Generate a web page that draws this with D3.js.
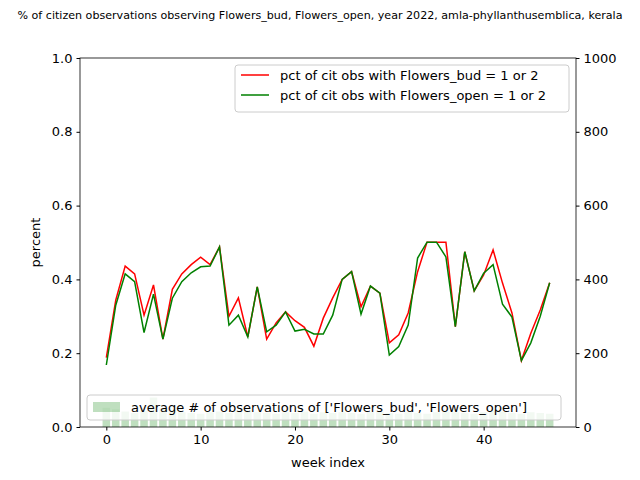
<!DOCTYPE html>
<html>
<head>
<meta charset="utf-8">
<script src="https://cdn.jsdelivr.net/npm/d3@7"></script>
<style>
  body { margin: 0; background: #fff; }
  text { font-family: 'DejaVu Sans', sans-serif; }
</style>
</head>
<body>
<div class="chart"></div>
<script>
const bud = [0.188, 0.344, 0.436, 0.415, 0.303, 0.385, 0.238, 0.373, 0.415, 0.44, 0.46, 0.44,
  0.488, 0.3, 0.35, 0.244, 0.38, 0.238, 0.282, 0.312, 0.288, 0.27, 0.219, 0.295,
  0.35, 0.4, 0.421, 0.326, 0.382, 0.363, 0.228, 0.25, 0.309, 0.421, 0.501, 0.501,
  0.501, 0.272, 0.475, 0.369, 0.412, 0.48, 0.39, 0.309, 0.18, 0.254, 0.317, 0.391]
const open = [0.168, 0.33, 0.415, 0.394, 0.256, 0.36, 0.238, 0.349, 0.394, 0.418, 0.434, 0.436,
  0.488, 0.276, 0.303, 0.244, 0.38, 0.258, 0.276, 0.312, 0.26, 0.265, 0.252, 0.252,
  0.303, 0.4, 0.421, 0.306, 0.382, 0.363, 0.195, 0.218, 0.276, 0.458, 0.501, 0.501,
  0.461, 0.272, 0.475, 0.369, 0.417, 0.44, 0.333, 0.298, 0.18, 0.228, 0.3, 0.391]
const obsCount = [52, 48, 42, 38, 44, 80, 50, 46, 40, 38, 36, 40, 42, 38, 44, 46, 40, 38, 36, 40,
  38, 42, 36, 40, 38, 40, 38, 36, 40, 42, 38, 36, 40, 38, 36, 40, 42, 40, 38, 36,
  40, 44, 42, 38, 36, 40, 38, 36]
const title = "% of citizen observations observing Flowers_bud, Flowers_open, year 2022, amla-phyllanthusemblica, kerala"

const width = 640
const height = 480
const m = {left: 80, right: 64, top: 58, bottom: 53}
const svg = d3.select('.chart').append('svg')
  .attr('width', width)
  .attr('height', height)

const x = d3.scaleLinear().domain([-2.79, 49.79]).range([m.left, width - m.right])
const y = d3.scaleLinear().domain([0, 1]).range([height - m.bottom, m.top])
const y2 = d3.scaleLinear().domain([0, 1000]).range([height - m.bottom, m.top])
const bw = x(0.8) - x(0)

svg.append('g').selectAll('rect')
  .data(obsCount)
  .enter().append('rect')
  .attr('x', (d, i) => x(i - 0.4))
  .attr('y', (d) => y2(d))
  .attr('width', bw)
  .attr('height', (d) => y2(0) - y2(d))
  .attr('fill', 'green')
  .attr('opacity', 0.25)

const line = (arr) => d3.line().x((d, i) => x(i)).y((d) => y(d))(arr)
svg.append('path').attr('d', line(bud)).attr('fill', 'none').attr('stroke', 'red').attr('stroke-width', 1.5)
svg.append('path').attr('d', line(open)).attr('fill', 'none').attr('stroke', 'green').attr('stroke-width', 1.5)

const styleAxis = (g) => {
  g.selectAll('text').attr('font-size', 13).attr('fill', '#000').attr('font-family', 'DejaVu Sans')
  g.selectAll('line').attr('stroke', '#000')
  g.select('.domain').remove()
}
svg.append('g').attr('transform', 'translate(0,' + (height - m.bottom) + ')')
  .call(d3.axisBottom(x).tickValues([0, 10, 20, 30, 40]).tickSize(3.5).tickPadding(4)).call(styleAxis)
svg.append('g').attr('transform', 'translate(' + m.left + ',0)')
  .call(d3.axisLeft(y).ticks(5).tickFormat(d3.format('.1f')).tickSize(3.5).tickPadding(4)).call(styleAxis)
svg.append('g').attr('transform', 'translate(' + (width - m.right) + ',0)')
  .call(d3.axisRight(y2).ticks(5).tickFormat(d3.format('d')).tickSize(3.5).tickPadding(4)).call(styleAxis)

svg.append('rect')
  .attr('x', m.left).attr('y', m.top)
  .attr('width', width - m.left - m.right).attr('height', height - m.top - m.bottom)
  .attr('fill', 'none').attr('stroke', '#000').attr('stroke-width', 0.8)

// legends
const leg1 = svg.append('g')
leg1.append('rect').attr('x', 235).attr('y', 65).attr('width', 334).attr('height', 47)
  .attr('rx', 3).attr('fill', '#fff').attr('fill-opacity', 0.8).attr('stroke', '#ccc')
;[['red', 'pct of cit obs with Flowers_bud = 1 or 2'], ['green', 'pct of cit obs with Flowers_open = 1 or 2']]
  .forEach(([c, t], i) => {
    const yy = 75 + i * 20
    leg1.append('line').attr('x1', 241).attr('x2', 269).attr('y1', yy).attr('y2', yy)
      .attr('stroke', c).attr('stroke-width', 1.5)
    leg1.append('text').attr('x', 280).attr('y', yy + 5).attr('font-size', 13).text(t)
  })
const leg2 = svg.append('g')
leg2.append('rect').attr('x', 87).attr('y', 395).attr('width', 474).attr('height', 25)
  .attr('rx', 3).attr('fill', '#fff').attr('fill-opacity', 0.8).attr('stroke', '#ccc')
leg2.append('rect').attr('x', 93).attr('y', 402).attr('width', 27).attr('height', 10)
  .attr('fill', 'green').attr('opacity', 0.25)
leg2.append('text').attr('x', 131).attr('y', 412).attr('font-size', 13)
  .text("average # of observations of ['Flowers_bud', 'Flowers_open']")

svg.append('text').attr('x', 320).attr('y', 19).attr('text-anchor', 'middle').attr('font-size', 11.1).text(title)
svg.append('text').attr('x', (m.left + width - m.right) / 2).attr('y', 467).attr('text-anchor', 'middle')
  .attr('font-size', 13).text('week index')
svg.append('text').attr('transform', 'translate(40,' + ((m.top + height - m.bottom) / 2) + ') rotate(-90)')
  .attr('text-anchor', 'middle').attr('font-size', 13).text('percent')
</script>
</body>
</html>
